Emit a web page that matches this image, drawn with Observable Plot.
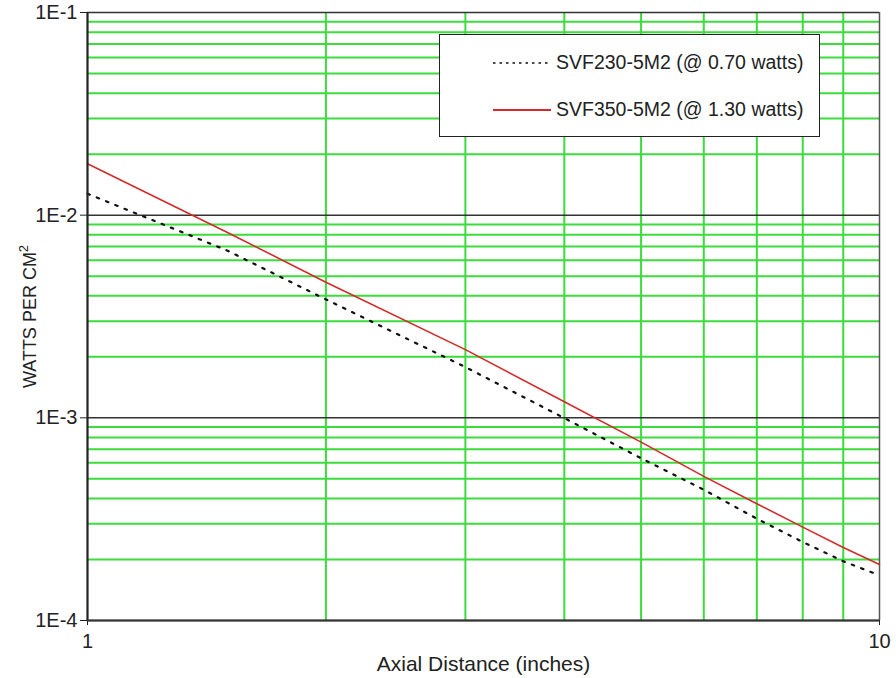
<!DOCTYPE html>
<html>
<head>
<meta charset="utf-8">
<script src="https://cdn.jsdelivr.net/npm/d3@7"></script>
<script src="https://cdn.jsdelivr.net/npm/@observablehq/plot@0.6"></script>
<style>
  html, body { margin: 0; padding: 0; background: #fff; }
  #wrap { position: relative; width: 896px; height: 678px; font-family: "Liberation Sans", Arial, sans-serif; }
  #legend { position: absolute; left: 439px; top: 34px; width: 381px; height: 103px; background: #fff; border: 1.5px solid #222; box-sizing: border-box; }
  .row { position: absolute; left: 0; display: flex; align-items: center; font-size: 19.5px; color: #222; }
  .row svg { margin-left: 53px; margin-right: 5px; }
</style>
</head>
<body>
<div id="wrap"></div>
<script>
const distances = [1, 1.5, 2, 3, 4, 5, 6, 7, 8, 9, 10];
const svf230 = [0.01276, 0.0067, 0.00384, 0.00178, 0.000997, 0.000632, 0.000442, 0.000318, 0.000244, 0.000196, 0.000167];
const svf350 = [0.01795, 0.00824, 0.00467, 0.00217, 0.00120, 0.000759, 0.000514, 0.000377, 0.000289, 0.000229, 0.000189];
const seriesNames = ["SVF230-5M2 (@ 0.70 watts)", "SVF350-5M2 (@ 1.30 watts)"];
const yMajorTicks = [1e-1, 1e-2, 1e-3, 1e-4];
const yDecades = [1e-4, 1e-3, 1e-2];
const multipliers = [2, 3, 4, 5, 6, 7, 8, 9];
const xMinorGrid = [2, 3, 4, 5, 6, 7, 8, 9];
const xTicks = [1, 10];
const xLabel = "Axial Distance (inches)";
const yLabel = "WATTS PER CM";

const yMinorGrid = yDecades.flatMap(d => multipliers.map(m => m * d));
const data230 = distances.map((x, i) => ({x, y: svf230[i]}));
const data350 = distances.map((x, i) => ({x, y: svf350[i]}));

const green = "#3ddc3d";
const chart = Plot.plot({
  width: 896,
  height: 678,
  marginLeft: 87,
  marginRight: 17,
  marginTop: 12,
  marginBottom: 58,
  style: {fontFamily: "'Liberation Sans', Arial, sans-serif", color: "#222", background: "#fff"},
  x: {type: "log", domain: [1, 10]},
  y: {type: "log", domain: [1e-4, 1e-1]},
  marks: [
    Plot.ruleY(yMinorGrid, {stroke: green, strokeWidth: 2}),
    Plot.ruleX(xMinorGrid, {stroke: green, strokeWidth: 2}),
    Plot.ruleY(yMajorTicks, {stroke: "#333", strokeWidth: 1.5}),
    Plot.ruleX(xTicks, {stroke: "#555", strokeWidth: 1.5}),
    Plot.line(data350, {x: "x", y: "y", stroke: "#d42a2a", strokeWidth: 1.6}),
    Plot.line(data230, {x: "x", y: "y", stroke: "#111", strokeWidth: 2.2, strokeDasharray: "2.5,7.5"}),
    Plot.ruleX([1], {stroke: "#222", strokeWidth: 2}),
    Plot.ruleY([1e-4], {stroke: "#333", strokeWidth: 2}),
    Plot.axisX({ticks: xTicks, tickFormat: d => String(d), tickSize: 5, tickPadding: 8,
      label: xLabel, labelAnchor: "center", labelArrow: "none", labelOffset: 50}),
    Plot.axisY({ticks: yMajorTicks, tickFormat: d => "1E" + Math.round(Math.log10(d)), tickSize: 7, tickPadding: 3,
      label: yLabel, labelAnchor: "center", labelArrow: "none", labelOffset: 64})
  ]
});
chart.querySelectorAll('[aria-label="x-axis tick label"] text, [aria-label="y-axis tick label"] text').forEach(t => {
  t.setAttribute("font-size", "20");
  t.style.fontSize = "20px";
});
chart.querySelectorAll("text").forEach(t => {
  if (t.textContent === xLabel) { t.setAttribute("font-size", "21"); t.style.fontSize = "21px"; }
  if (t.textContent === yLabel) {
    t.setAttribute("font-size", "18");
    t.style.fontSize = "18px";
    const sup = document.createElementNS("http://www.w3.org/2000/svg", "tspan");
    sup.textContent = "2";
    sup.setAttribute("dy", "-0.6em");
    sup.setAttribute("font-size", "13");
    sup.style.fontSize = "13px";
    t.appendChild(sup);
  }
});
const wrap = document.getElementById("wrap");
wrap.appendChild(chart);

const legend = document.createElement("div");
legend.id = "legend";
const styles = [
  {stroke: "#111", dash: "2.5,4", width: 1.6, top: 16},
  {stroke: "#d42a2a", dash: "", width: 1.8, top: 63}
];
seriesNames.forEach((name, i) => {
  const row = document.createElement("div");
  row.className = "row";
  row.style.top = styles[i].top + "px";
  row.innerHTML = `<svg width="58" height="10"><line x1="0" x2="58" y1="5" y2="5" stroke="${styles[i].stroke}" stroke-width="${styles[i].width}" ${styles[i].dash ? `stroke-dasharray="${styles[i].dash}"` : ""}/></svg><span>${name}</span>`;
  legend.appendChild(row);
});
wrap.appendChild(legend);
</script>
</body>
</html>
